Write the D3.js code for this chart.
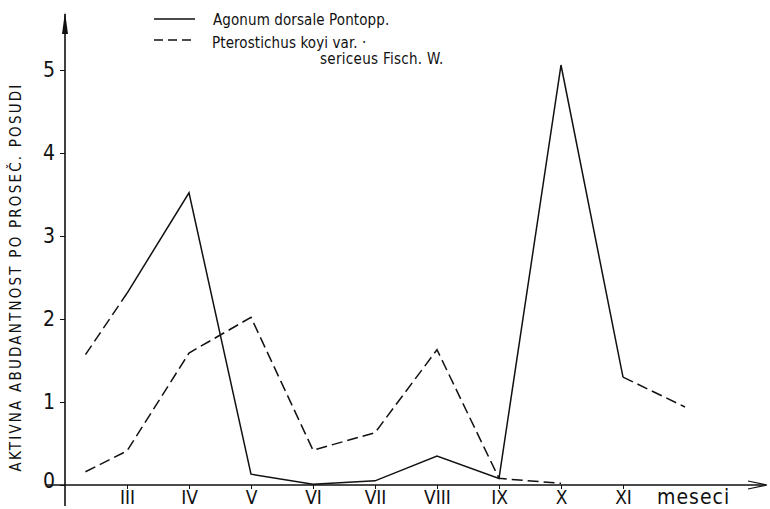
<!DOCTYPE html>
<html>
<head>
<meta charset="utf-8">
<script src="https://cdn.jsdelivr.net/npm/d3@7"></script>
<style>
  body { margin: 0; background: #fff; }
  text { font-family: "DejaVu Sans Condensed", "DejaVu Sans", sans-serif; fill: #111; }
</style>
</head>
<body>
<svg width="770" height="509"></svg>
<script>
// month ticks on the x axis
let monthLabels = ["III", "IV", "V", "VI", "VII", "VIII", "IX", "X", "XI"];
let monthPos = [3, 4, 5, 6, 7, 8, 9, 10, 11];

// sampling points (month position) and values
let pointPos = [2.33, 3, 4, 5, 6, 7, 8, 9, 10, 11, 12];
let agonum = [1.57, 2.31, 3.52, 0.13, 0.01, 0.05, 0.35, 0.08, 5.06, 1.30, 0.94];
let pterostichus = [0.16, 0.41, 1.59, 2.02, 0.42, 0.63, 1.63, 0.08, 0.02];

let yTicks = [0, 1, 2, 3, 4, 5];

let svg = d3.select("svg");

let x = d3.scaleLinear().domain([2, 12]).range([65, 685]);
let y = d3.scaleLinear().domain([0, 5]).range([485, 70]);

// axes lines with arrows
svg.append("line")
    .attr("x1", x(2)).attr("x2", x(2))
    .attr("y1", 506).attr("y2", 14)
    .attr("stroke", "#111").attr("stroke-width", 1.6);
svg.append("path")
    .attr("d", "M" + (x(2) - 3) + ",34 L" + x(2) + ",12 L" + (x(2) + 3) + ",34 Z")
    .attr("fill", "#111");

svg.append("line")
    .attr("x1", 46).attr("x2", 766)
    .attr("y1", y(0)).attr("y2", y(0))
    .attr("stroke", "#111").attr("stroke-width", 1.3);
svg.append("path")
    .attr("d", "M748," + (y(0) - 4) + " L767," + y(0) + " L748," + (y(0) + 4))
    .attr("fill", "none").attr("stroke", "#111").attr("stroke-width", 1.2);

// y ticks and labels
let yAxis = d3.axisLeft(y).tickValues(yTicks).tickSize(5).tickFormat(d3.format("d"));
let gy = svg.append("g").attr("transform", "translate(" + x(2) + ",0)").call(yAxis);
gy.select(".domain").remove();
gy.selectAll("line").attr("stroke", "#111");
gy.selectAll("text")
    .attr("font-size", 21)
    .attr("x", -10)
    .attr("dy", "0.3em")
    .style("font-family", "'DejaVu Sans Condensed', 'DejaVu Sans', sans-serif")
    .attr("fill", "#111");
gy.select(".tick:first-of-type text").attr("dy", "0.1em");

// x ticks and labels
let xAxis = d3.axisBottom(x).tickValues(monthPos).tickSize(4)
    .tickFormat(function(d, i) { return monthLabels[i]; });
let gx = svg.append("g").attr("transform", "translate(0," + y(0) + ")").call(xAxis);
gx.select(".domain").remove();
gx.selectAll("line").attr("stroke", "#111");
gx.selectAll("text")
    .attr("font-size", 19)
    .attr("y", 6)
    .style("font-family", "'DejaVu Sans Condensed', 'DejaVu Sans', sans-serif")
    .attr("fill", "#111");

svg.append("text")
    .attr("x", 657).attr("y", 504)
    .attr("font-size", 21)
    .attr("letter-spacing", 1)
    .text("meseci");

// y axis title
svg.append("text")
    .attr("transform", "translate(21,277) rotate(-90)")
    .attr("text-anchor", "middle")
    .attr("font-size", 15)
    .attr("letter-spacing", 2.2)
    .text("AKTIVNA ABUDANTNOST PO PROSEČ. POSUDI");

// lines
let line = d3.line()
    .x(function(d) { return x(d[0]); })
    .y(function(d) { return y(d[1]); });

let agPts = pointPos.map(function(p, i) { return [p, agonum[i]]; });
let ptPts = pterostichus.map(function(v, i) { return [pointPos[i], v]; });

// solid part of Agonum, dashed ends where the record is extrapolated
svg.append("path").datum(agPts.slice(1, 10)).attr("d", line)
    .attr("fill", "none").attr("stroke", "#111").attr("stroke-width", 1.5);
svg.append("path").datum(agPts.slice(0, 2)).attr("d", line)
    .attr("fill", "none").attr("stroke", "#111").attr("stroke-width", 1.5)
    .attr("stroke-dasharray", "11,5");
svg.append("path").datum(agPts.slice(9)).attr("d", line)
    .attr("fill", "none").attr("stroke", "#111").attr("stroke-width", 1.5)
    .attr("stroke-dasharray", "11,5");

svg.append("path").datum(ptPts).attr("d", line)
    .attr("fill", "none").attr("stroke", "#111").attr("stroke-width", 1.5)
    .attr("stroke-dasharray", "11,5");

// legend
svg.append("line").attr("x1", 154).attr("x2", 195).attr("y1", 19).attr("y2", 19)
    .attr("stroke", "#111").attr("stroke-width", 1.5);
svg.append("line").attr("x1", 154).attr("x2", 195).attr("y1", 40).attr("y2", 40)
    .attr("stroke", "#111").attr("stroke-width", 1.5).attr("stroke-dasharray", "9,5");

svg.append("text").attr("x", 213).attr("y", 25).attr("font-size", 15)
    .attr("letter-spacing", 0.1).text("Agonum dorsale Pontopp.");
svg.append("text").attr("x", 212).attr("y", 48).attr("font-size", 15)
    .attr("letter-spacing", 0.1).text("Pterostichus koyi var. ·");
svg.append("text").attr("x", 320).attr("y", 64).attr("font-size", 15)
    .attr("letter-spacing", 0.3).text("sericeus Fisch. W.");
</script>
</body>
</html>
